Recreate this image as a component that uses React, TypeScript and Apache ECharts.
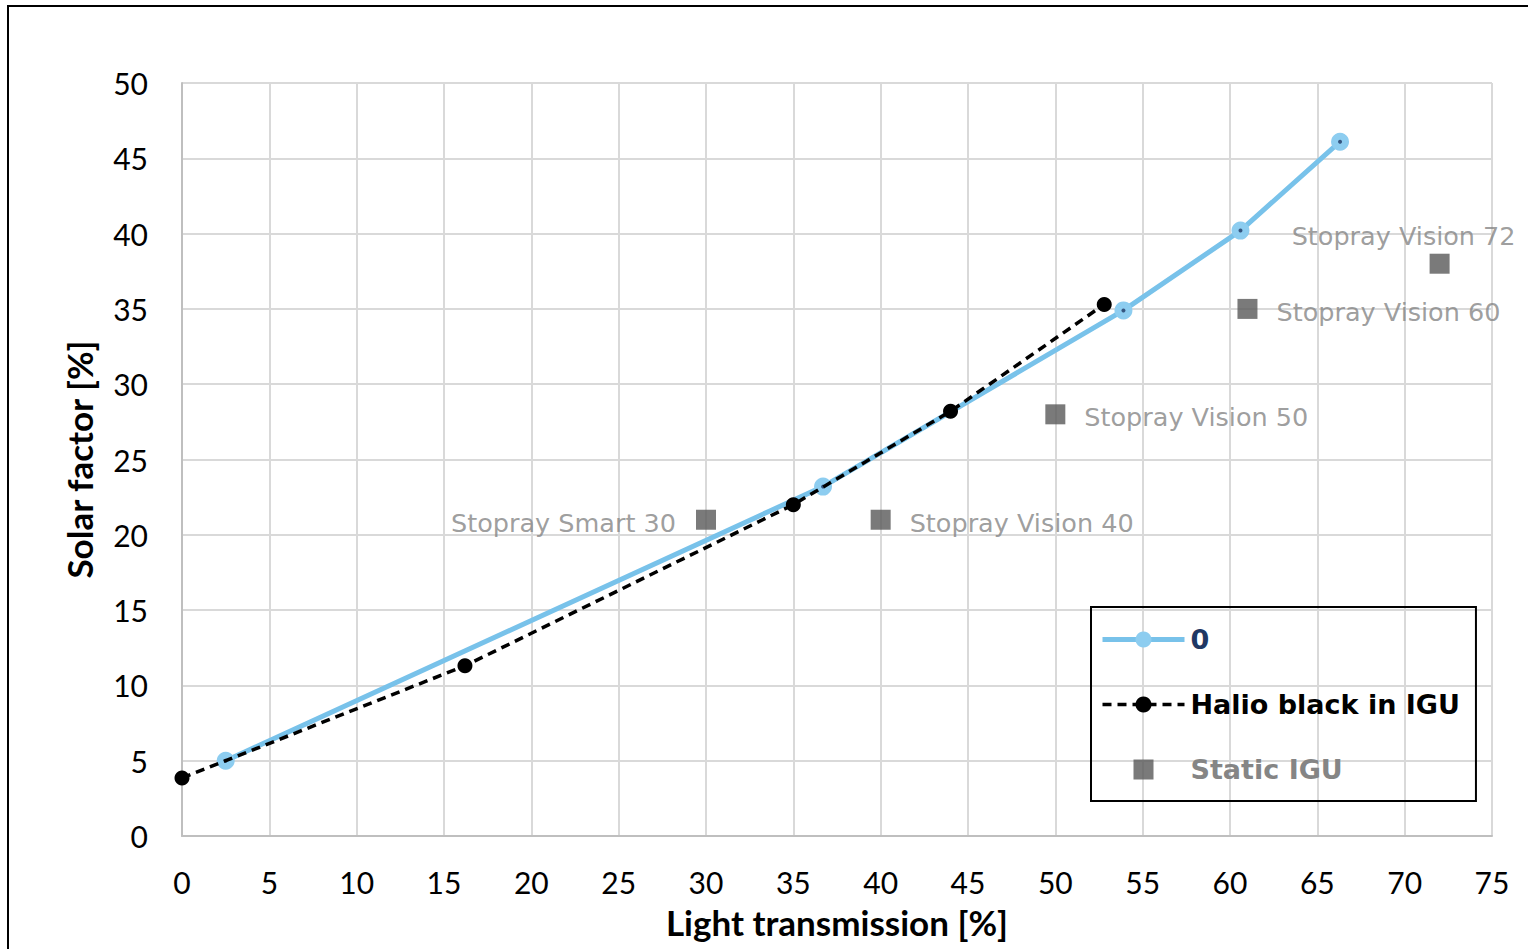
import React, { useEffect, useRef } from "react";
import * as echarts from "echarts";

const blueX = [2.5, 36.7, 53.9, 60.6, 66.3];
const blueY = [5.0, 23.2, 34.9, 40.2, 46.1];
const blackX = [0, 16.2, 35.0, 44.0, 52.8];
const blackY = [3.85, 11.3, 22.0, 28.2, 35.3];
const staticX = [30, 40, 50, 61, 72];
const staticY = [21, 21, 28, 35, 38];
const staticNames = [
  "Stopray Smart 30",
  "Stopray Vision 40",
  "Stopray Vision 50",
  "Stopray Vision 60",
  "Stopray Vision 72",
];
const seriesNames = ["0", "Halio black in IGU", "Static IGU"];

export default function App() {
  const ref = useRef<HTMLDivElement>(null);
  useEffect(() => {
    if (!ref.current) return;
    const chart = echarts.init(ref.current, null, { renderer: "svg" });
    const axisFont = "Lato";
    const labelFont = "DejaVu Sans";
    const blue = "#78C2EA";
    const gray = "#858585";

    const staticData = staticX.map((x, i) => {
      const item: any = { value: [x, staticY[i]], name: staticNames[i] };
      if (i === 0) {
        item.label = { position: "left", distance: 20, offset: [0, 3] };
      } else if (i === 4) {
        item.label = { position: "top", distance: 6, offset: [-36, 1] };
      } else {
        item.label = { position: "right", distance: 19, offset: [0, 3] };
      }
      return item;
    });

    chart.setOption({
      animation: false,
      backgroundColor: "#ffffff",
      grid: { left: 182, right: 36, top: 83, bottom: 113 },
      graphic: [
        {
          type: "rect",
          shape: { x: 8, y: 6, width: 1600, height: 1100 },
          style: { fill: "none", stroke: "#000", lineWidth: 2 },
          silent: true,
          z: 100,
        },
      ],
      xAxis: {
        type: "value",
        min: 0,
        max: 75,
        interval: 5,
        name: "Light transmission [%]",
        nameLocation: "middle",
        nameGap: 68,
        nameTextStyle: {
          fontFamily: axisFont,
          fontWeight: "bold",
          fontSize: 35,
          color: "#000",
        },
        axisLine: { show: true, lineStyle: { color: "#BFBFBF", width: 2 } },
        axisTick: { show: false },
        axisLabel: {
          fontFamily: axisFont,
          fontSize: 30,
          color: "#000",
          margin: 31,
        },
        splitLine: { show: true, lineStyle: { color: "#D9D9D9", width: 2 } },
      },
      yAxis: {
        type: "value",
        min: 0,
        max: 50,
        interval: 5,
        name: "Solar factor [%]",
        nameLocation: "middle",
        nameGap: 86,
        nameTextStyle: {
          fontFamily: axisFont,
          fontWeight: "bold",
          fontSize: 35,
          color: "#000",
        },
        axisLine: { show: true, lineStyle: { color: "#BFBFBF", width: 2 } },
        axisTick: { show: false },
        axisLabel: {
          fontFamily: axisFont,
          fontSize: 30,
          color: "#000",
          margin: 34,
        },
        splitLine: { show: true, lineStyle: { color: "#D9D9D9", width: 2 } },
      },
      legend: {
        orient: "vertical",
        left: 1091,
        top: 607,
        padding: [19, 16, 18, 9],
        borderColor: "#000",
        borderWidth: 2,
        itemWidth: 82,
        itemHeight: 20,
        itemGap: 38,
        textStyle: {
          fontFamily: labelFont,
          fontWeight: "bold",
          fontSize: 27,
          padding: [0, 0, 0, 1],
        },
        data: [
          {
            name: seriesNames[0],
            textStyle: { color: "#1F3864" },
            lineStyle: { width: 5, color: blue },
          },
          {
            name: seriesNames[1],
            textStyle: { color: "#000000" },
            lineStyle: { width: 3.5, color: "#000", type: [9, 6] },
          },
          {
            name: seriesNames[2],
            icon: "path://M0 0H10V10H0Z",
            textStyle: { color: gray },
          },
        ],
      },
      series: [
        {
          name: seriesNames[0],
          type: "line",
          data: blueX.map((x, i) => [x, blueY[i]]),
          symbol: "circle",
          symbolSize: 18,
          itemStyle: { color: "#8DCDF0" },
          lineStyle: { color: blue, width: 5 },
          z: 2,
        },
        {
          name: "dots",
          type: "scatter",
          data: blueX.map((x, i) => [x, blueY[i]]),
          symbol: "circle",
          symbolSize: 4,
          itemStyle: { color: "#1F3864" },
          silent: true,
          z: 3,
        },
        {
          name: seriesNames[1],
          type: "line",
          data: blackX.map((x, i) => [x, blackY[i]]),
          symbol: "circle",
          symbolSize: 15,
          itemStyle: { color: "#000" },
          lineStyle: { color: "#000", width: 3.5, type: [9, 6] },
          z: 4,
        },
        {
          name: seriesNames[2],
          type: "scatter",
          data: staticData,
          symbol: "rect",
          symbolSize: 20,
          itemStyle: { color: "#595959" },
          label: {
            show: true,
            formatter: "{b}",
            fontFamily: labelFont,
            fontSize: 25.5,
            color: gray,
          },
          z: 5,
        },
      ],
    });
    return () => chart.dispose();
  }, []);

  return (
    <div
      style={{
        position: "fixed",
        left: 0,
        top: 0,
        width: 1528,
        height: 949,
        background: "#fff",
      }}
    >
      <div ref={ref} style={{ width: 1528, height: 949 }} />
    </div>
  );
}
